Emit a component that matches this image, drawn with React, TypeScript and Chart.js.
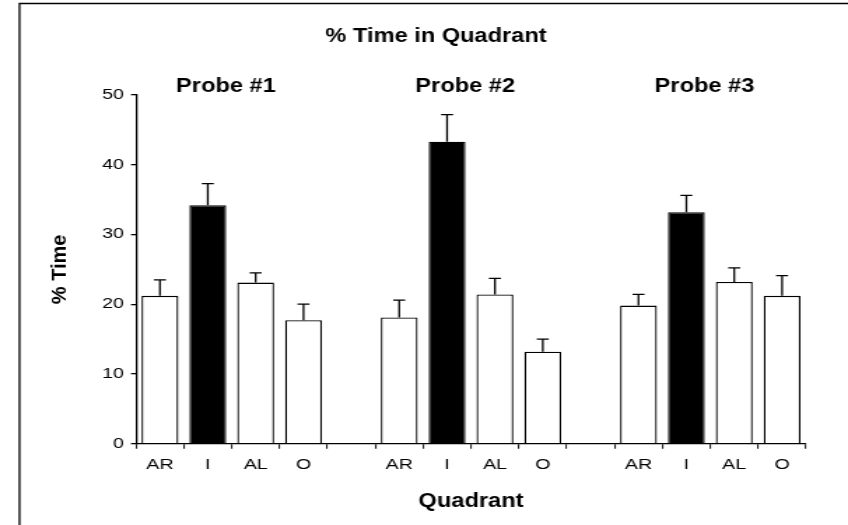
import { useEffect, useRef } from 'react';
import { Chart, registerables } from 'chart.js';

Chart.register(...registerables);

// ---- data ----
const chartTitle = '% Time in Quadrant';
const xAxisTitle = 'Quadrant';
const yAxisTitle = '% Time';
const probeNames = ['Probe #1', 'Probe #2', 'Probe #3'];
const quadrants = ['AR', 'I', 'AL', 'O'];
const probe1Means = [21.2, 34.2, 23.1, 17.7];
const probe1Errors = [2.3, 3.1, 1.4, 2.3];
const probe2Means = [18.1, 43.3, 21.4, 13.2];
const probe2Errors = [2.5, 3.9, 2.3, 1.8];
const probe3Means = [19.8, 33.2, 23.2, 21.2];
const probe3Errors = [1.6, 2.4, 2.0, 2.9];
const yTickValues = [0, 10, 20, 30, 40, 50];
const targetQuadrant = 'I';

const allMeans = [probe1Means, probe2Means, probe3Means];
const allErrors = [probe1Errors, probe2Errors, probe3Errors];

// build the 14-slot category axis (4 bars + an empty gap slot per probe)
const labels: string[] = [];
const means: (number | null)[] = [];
const errors: (number | null)[] = [];
const groupStart: number[] = [];
probeNames.forEach((_, g) => {
  groupStart.push(labels.length);
  quadrants.forEach((q, i) => {
    labels.push(q);
    means.push(allMeans[g][i]);
    errors.push(allErrors[g][i]);
  });
  if (g < probeNames.length - 1) {
    labels.push('');
    means.push(null);
    errors.push(null);
  }
});

// ---- layout ----
const CSS_W = 848;
const CSS_H = 525;
const INT_W = 606;
const S = CSS_W / INT_W; // horizontal stretch of the drawing
const FONT = "'Liberation Sans', Arial, Helvetica, sans-serif";

const decorPlugin = {
  id: 'decor',
  afterDatasetsDraw(chart: any) {
    const { ctx } = chart;
    const yScale = chart.scales.y;
    const meta = chart.getDatasetMeta(0);
    ctx.save();
    ctx.strokeStyle = '#000';
    ctx.lineWidth = 1.3;
    const hw = 6 / S;
    meta.data.forEach((el: any, i: number) => {
      const m = means[i];
      const e = errors[i];
      if (m == null || e == null) return;
      const x = el.x;
      const y0 = el.y;
      const y1 = yScale.getPixelForValue(m + e);
      ctx.beginPath();
      ctx.moveTo(x, y0);
      ctx.lineTo(x, y1);
      ctx.moveTo(x - hw, y1);
      ctx.lineTo(x + hw, y1);
      ctx.stroke();
    });
    ctx.restore();
  },
  afterDraw(chart: any) {
    const { ctx, chartArea } = chart;
    const xScale = chart.scales.x;
    ctx.save();
    // frame (top and left edges)
    ctx.strokeStyle = '#000';
    ctx.lineWidth = 1.3;
    ctx.beginPath();
    ctx.moveTo(19.5 / S, CSS_H);
    ctx.lineTo(19.5 / S, 3.5);
    ctx.lineTo(INT_W, 3.5);
    ctx.stroke();

    ctx.fillStyle = '#000';
    const txt = (t: string, cx: number, by: number, sx: number, size: number) => {
      ctx.save();
      ctx.translate(cx, by);
      ctx.scale(sx, 1);
      ctx.font = `bold ${size}px ${FONT}`;
      ctx.textAlign = 'center';
      ctx.textBaseline = 'alphabetic';
      ctx.fillText(t, 0, 0);
      ctx.restore();
    };
    const sx = 1.18 / S;
    txt(chartTitle, 436 / S, 42, sx, 20);
    probeNames.forEach((p, g) => {
      const c = groupStart[g] + (quadrants.length - 1) / 2 - 0.12;
      txt(p, xScale.getPixelForValue(c), 92, sx, 20);
    });
    txt(xAxisTitle, (chartArea.left + chartArea.right) / 2, 507, sx, 20);

    // y axis title, rotated
    ctx.save();
    ctx.translate(60 / S, (chartArea.top + chartArea.bottom) / 2);
    ctx.scale(1 / S, 1);
    ctx.rotate(-Math.PI / 2);
    ctx.font = `bold 20px ${FONT}`;
    ctx.textAlign = 'center';
    ctx.textBaseline = 'middle';
    ctx.fillText(yAxisTitle, 0, 0);
    ctx.restore();

    ctx.restore();
  },
};

export default function App() {
  const ref = useRef<HTMLCanvasElement | null>(null);

  useEffect(() => {
    if (!ref.current) return;
    const chart = new Chart(ref.current, {
      type: 'bar',
      data: {
        labels,
        datasets: [
          {
            data: means as any,
            backgroundColor: (c: any) => (labels[c.dataIndex] === targetQuadrant ? '#000' : '#fff'),
            borderColor: '#000',
            borderWidth: 1.3,
            barPercentage: 0.77,
            categoryPercentage: 1,
          },
        ],
      },
      options: {
        responsive: false,
        devicePixelRatio: 1,
        animation: false,
        layout: { padding: { left: 0, right: INT_W - 806 / S, top: 95, bottom: 0 } },
        plugins: {
          legend: { display: false },
          tooltip: { enabled: false },
          title: { display: false },
        },
        scales: {
          x: {
            type: 'category',
            offset: true,
            afterFit: (s: any) => {
              s.height = CSS_H - 443.7;
            },
            grid: {
              display: true,
              offset: true,
              drawOnChartArea: false,
              drawTicks: true,
              tickLength: 5,
              color: '#222',
              lineWidth: 1.1,
            },
            border: { display: true, color: '#000', width: 1.3 },
            ticks: {
              autoSkip: false,
              maxRotation: 0,
              minRotation: 0,
              padding: 8,
              color: '#000',
              font: { family: FONT, size: 14 },
            },
          },
          y: {
            min: 0,
            max: 50,
            afterBuildTicks: (s: any) => {
              s.ticks = yTickValues.map((v) => ({ value: v }));
            },
            afterFit: (s: any) => {
              s.width = 136 / S;
            },
            grid: {
              display: true,
              drawOnChartArea: false,
              drawTicks: true,
              tickLength: 5 / S,
              color: '#000',
              lineWidth: 1.3,
            },
            border: { display: true, color: '#000', width: 1.3 },
            ticks: {
              padding: 7 / S,
              color: '#000',
              font: { family: FONT, size: 14 },
            },
          },
        },
      },
      plugins: [decorPlugin],
    });
    return () => chart.destroy();
  }, []);

  return (
    <div style={{ position: 'absolute', left: 0, top: 0, width: CSS_W, height: CSS_H, background: '#fff' }}>
      <canvas
        ref={ref}
        width={INT_W}
        height={CSS_H}
        style={{ width: `${CSS_W}px`, height: `${CSS_H}px`, display: 'block' }}
      />
    </div>
  );
}
